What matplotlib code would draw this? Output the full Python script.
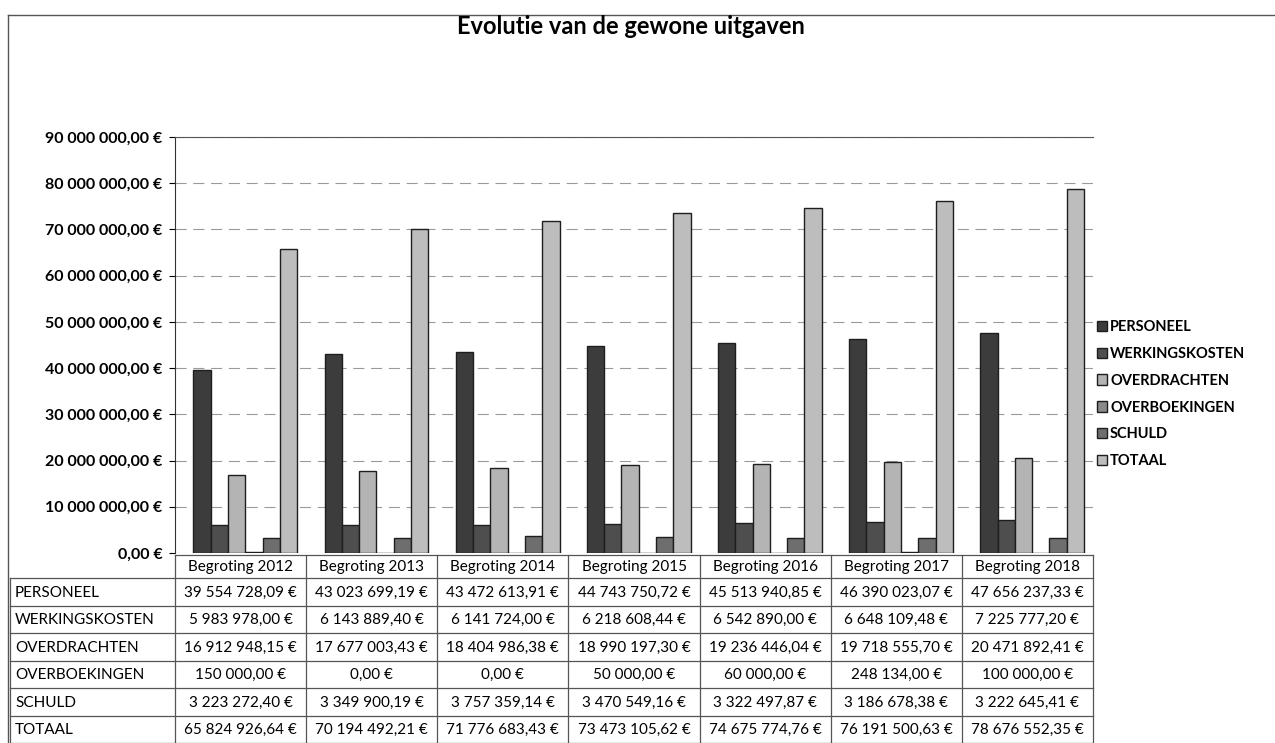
import numpy as np
import matplotlib
matplotlib.use("Agg")
import matplotlib.pyplot as plt
from matplotlib.ticker import FuncFormatter

plt.rcParams['font.family'] = ['Lato', 'DejaVu Sans']

# data
jaren = ["Begroting 2012", "Begroting 2013", "Begroting 2014", "Begroting 2015",
         "Begroting 2016", "Begroting 2017", "Begroting 2018"]
reeksen = ["PERSONEEL", "WERKINGSKOSTEN", "OVERDRACHTEN", "OVERBOEKINGEN", "SCHULD", "TOTAAL"]
personeel = [39554728.09, 43023699.19, 43472613.91, 44743750.72, 45513940.85, 46390023.07, 47656237.33]
werkingskosten = [5983978.00, 6143889.40, 6141724.00, 6218608.44, 6542890.00, 6648109.48, 7225777.20]
overdrachten = [16912948.15, 17677003.43, 18404986.38, 18990197.30, 19236446.04, 19718555.70, 20471892.41]
overboekingen = [150000.00, 0.00, 0.00, 50000.00, 60000.00, 248134.00, 100000.00]
schuld = [3223272.40, 3349900.19, 3757359.14, 3470549.16, 3322497.87, 3186678.38, 3222645.41]
totaal = [65824926.64, 70194492.21, 71776683.43, 73473105.62, 74675774.76, 76191500.63, 78676552.35]
waarden = [personeel, werkingskosten, overdrachten, overboekingen, schuld, totaal]

kleuren = ['#3c3c3c', '#4e4e4e', '#b4b4b4', '#8a8a8a', '#6e6e6e', '#bdbdbd']


def euro(v, pos=None):
    heel = int(v)
    cent = int(round((v - heel) * 100))
    s = f"{heel:,}".replace(",", " ")
    return f"{s},{cent:02d} €"


fig = plt.figure(figsize=(12.75, 7.43), dpi=100)

# overlay in pixel coords for table + frame
lay = fig.add_axes([0, 0, 1, 1])
lay.set_xlim(0, 1275)
lay.set_ylim(743, 0)
lay.axis('off')

ax = fig.add_axes([175/1275, 1-553/743, 918/1275, 416/743])

x = np.arange(len(jaren))
w = 0.132
for i, (naam, vals) in enumerate(zip(reeksen, waarden)):
    pos = x - 0.36 + w*i + w/2
    ax.bar(pos, vals, w, color=kleuren[i], edgecolor='#1e1e1e', linewidth=1.0,
           label=naam, zorder=3)

ax.set_xlim(-0.5, len(jaren) - 0.5)
ax.set_ylim(0, 90000000)
ax.set_yticks(np.arange(0, 90000001, 10000000))
ax.yaxis.set_major_formatter(FuncFormatter(euro))
ax.tick_params(axis='y', labelsize=11.5, length=4, pad=5)
for t in ax.get_yticklabels():
    t.set_fontweight('bold')
ax.set_xticks([])
ax.grid(axis='y', color='#9a9a9a', linewidth=0.8, linestyle=(0, (10, 6)), zorder=0)
for s in ['right', 'bottom']:
    ax.spines[s].set_visible(False)
ax.spines['top'].set_color('#555555')
ax.spines['left'].set_color('#333333')

leg = ax.legend(loc='center left', bbox_to_anchor=(0.99, 0.382), frameon=False,
                fontsize=10.5, handlelength=0.7, handleheight=0.7, handletextpad=0.2,
                labelspacing=0.88)
for t in leg.get_texts():
    t.set_fontweight('bold')

# data table drawn by hand
links, x0, kolb = 10, 175, 918 / len(jaren)
kop_top, kop_bod = 555, 578
rij_h = (743 - kop_bod) / len(reeksen)
lc = '#555555'
# header row
lay.plot([x0, x0 + 7*kolb], [kop_top, kop_top], color=lc, lw=0.9)
for j, jaar in enumerate(jaren):
    lay.text(x0 + (j + 0.5)*kolb, (kop_top + kop_bod)/2 + 1, jaar, ha='center', va='center', fontsize=11)
for j in range(len(jaren) + 1):
    lay.plot([x0 + j*kolb]*2, [kop_top, 743], color=lc, lw=0.9)
lay.plot([links, links], [kop_bod, 743], color=lc, lw=0.9)
for i in range(len(reeksen) + 1):
    y = kop_bod + i*rij_h
    lay.plot([links, x0 + 7*kolb], [y, y], color=lc, lw=0.9)
for i, (naam, vals) in enumerate(zip(reeksen, waarden)):
    yc = kop_bod + (i + 0.5)*rij_h + 1
    lay.text(links + 5, yc, naam, ha='left', va='center', fontsize=11)
    for j, v in enumerate(vals):
        lay.text(x0 + (j + 0.5)*kolb, yc, euro(v), ha='center', va='center', fontsize=11)

fig.text(0.495, 0.965, "Evolutie van de gewone uitgaven", ha='center', va='center',
         fontsize=17, fontweight='bold')

# chart frame
lay.plot([8, 1275], [15, 15], color='#555555', lw=1.0)
lay.plot([8, 8], [15, 743], color='#555555', lw=1.0)

fig.savefig("out.png", dpi=100)
